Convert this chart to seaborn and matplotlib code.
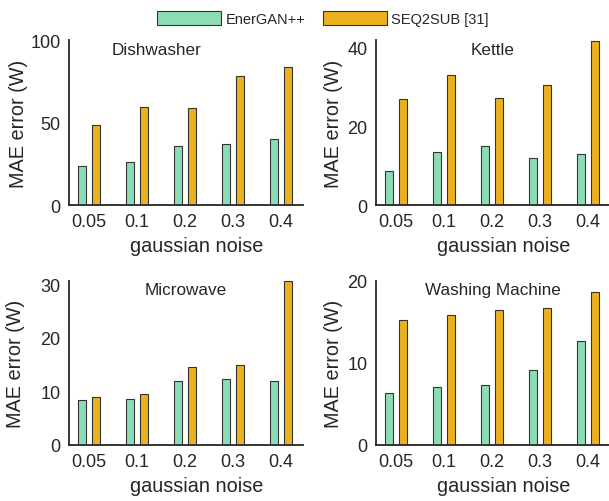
import pandas as pd
import matplotlib.pyplot as plt
import seaborn as sns

# noise levels on the x axis
noise = ['0.05', '0.1', '0.2', '0.3', '0.4']
methods = ['EnerGAN++', 'SEQ2SUB [31]']

# MAE values
dish_gan = [23.5, 26.3, 35.6, 37.2, 40.3]
dish_seq = [48.6, 59.5, 58.5, 78.1, 83.6]
kettle_gan = [8.7, 13.4, 14.9, 12.0, 12.8]
kettle_seq = [26.9, 32.9, 27.2, 30.3, 41.6]
micro_gan = [8.3, 8.65, 12.0, 12.3, 11.9]
micro_seq = [8.9, 9.5, 14.5, 15.0, 30.6]
wash_gan = [6.36, 7.09, 7.37, 9.1, 12.67]
wash_seq = [15.2, 15.8, 16.4, 16.7, 18.7]

palette = {'EnerGAN++': '#8DDDB4', 'SEQ2SUB [31]': '#EDB120'}
txt = '#262626'

sns.set_style('white')
plt.rcParams['font.family'] = ['Liberation Sans', 'DejaVu Sans']
plt.rcParams['text.color'] = txt
plt.rcParams['axes.labelcolor'] = txt
plt.rcParams['xtick.color'] = txt
plt.rcParams['ytick.color'] = txt

panels = [
    ('Dishwasher', dish_gan, dish_seq, [0, 50, 100], 100, 0.376, [0.1133, 0.5896, 0.3842, 0.3287], -0.175),
    ('Kettle', kettle_gan, kettle_seq, [0, 20, 40], 41.8, 0.5, [0.6174, 0.5896, 0.3842, 0.3287], -0.141),
    ('Microwave', micro_gan, micro_seq, [0, 10, 20, 30], 30.6, 0.5, [0.1133, 0.1116, 0.3842, 0.3267], -0.188),
    ('Washing Machine', wash_gan, wash_seq, [0, 10, 20], 20, 0.5, [0.6174, 0.1116, 0.3842, 0.3267], -0.141),
]

fig = plt.figure(figsize=(6.09, 5.02), dpi=100)

for name, gan, seq, yt, ytop, tx, pos, ylx in panels:
    ax = fig.add_axes(pos)
    df = pd.DataFrame({
        'noise': noise * 2,
        'mae': gan + seq,
        'method': [methods[0]] * len(noise) + [methods[1]] * len(noise),
    })
    sns.barplot(data=df, x='noise', y='mae', hue='method', palette=palette,
                width=0.58, gap=0.45, edgecolor='#333333', linewidth=0.8,
                saturation=1, legend=False, ax=ax)
    ax.set_xlim(-0.42, 4.455)
    ax.set_ylim(0, ytop)
    ax.set_yticks(yt)
    ax.set_xlabel('gaussian noise', fontsize=14.3)
    ax.set_ylabel('MAE error (W)', fontsize=14.3)
    ax.xaxis.set_label_coords(0.547, -0.19)
    ax.yaxis.set_label_coords(ylx, 0.5)
    ax.text(tx, 0.945, name, transform=ax.transAxes, ha='center', va='center', fontsize=12.3)
    sns.despine(ax=ax)
    for s in ['left', 'bottom']:
        ax.spines[s].set_color(txt)
        ax.spines[s].set_linewidth(1.3)
    ax.tick_params(direction='in', length=3, width=1, labelsize=13, pad=6)

handles = [plt.Rectangle((0, 0), 1, 1, facecolor=palette[m], edgecolor='#333333', linewidth=0.8) for m in methods]
fig.legend(handles, methods, loc='center', bbox_to_anchor=(0.53, 0.962), ncol=2, frameon=False,
           fontsize=10.5, handlelength=4.4, handleheight=1.1, columnspacing=1.2, handletextpad=0.3)

plt.savefig('out.png', dpi=100)
plt.close()
